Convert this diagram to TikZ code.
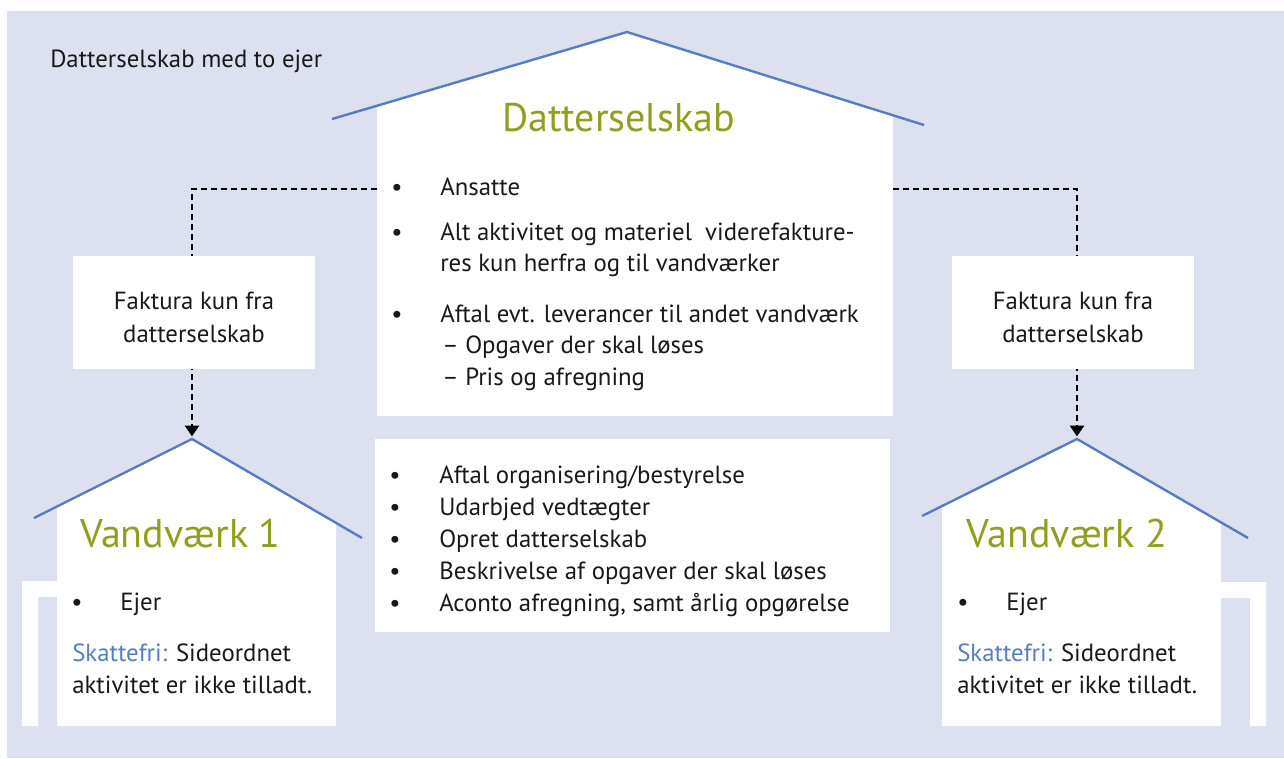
\documentclass[tikz,border=0pt]{standalone}
\usepackage{fontspec}
\setmainfont{PT Sans}
\usepackage{xcolor}
\usetikzlibrary{arrows.meta}

\definecolor{bgblue}{RGB}{220,224,239}
\definecolor{roofblue}{RGB}{88,124,192}
\definecolor{titlegreen}{RGB}{145,158,30}
\definecolor{inkgray}{RGB}{25,25,25}

\newcommand{\bodyfont}{\fontsize{18.6}{24.75}\selectfont}
\newcommand{\headfont}{\fontsize{30}{34}\selectfont}

\begin{document}
\begin{tikzpicture}[x=0.75pt,y=-0.75pt,>={Triangle[width=10.5pt,length=8pt]},
    roof/.style={roofblue,line width=1.8pt},
    wall/.style={fill=white,draw=none},
    link/.style={line width=1.7pt,dash pattern=on 4.5pt off 3pt},
    txt/.style={anchor=base west,inner sep=0pt,font=\bodyfont,text=inkgray},
    dot/.style={anchor=base,inner sep=0pt,font=\bodyfont,text=inkgray},
    head/.style={anchor=base,inner sep=0pt,font=\headfont,text=titlegreen},
    box/.style={fill=white,inner sep=0pt,minimum width=181.5pt,minimum height=84.75pt},
    boxtxt/.style={anchor=base,inner sep=0pt,align=center,font=\bodyfont,text=inkgray}]

        \useasboundingbox (0,0) rectangle (1284,758);
        \fill[bgblue] (7,11) rectangle (1284,758);

        % Houses (white walls under the roofs)
        \fill[wall] (377,416) -- (377,105.7) -- (627,32) -- (893,115.3) -- (893,416) -- cycle;  % Datterselskab
        \fill[wall] (57,726) -- (57,506.5) -- (192,439) -- (336,523) -- (336,726) -- cycle;     % Vandvaerk 1
        \fill[wall] (22,726) -- (22,581) -- (57,581) -- (57,597) -- (38,597) -- (38,726) -- cycle;
        \fill[wall] (942,726) -- (942,506) -- (1077,439) -- (1221,522.4) -- (1221,726) -- cycle; % Vandvaerk 2
        \fill[wall] (1266,726) -- (1266,582) -- (1221,582) -- (1221,598) -- (1250,598) -- (1250,726) -- cycle;

        % Roofs
        \draw[roof] (332,119) -- (627,32) -- (924,125);
        \draw[roof] (34,518) -- (192,439) -- (362,538);
        \draw[roof] (922,516) -- (1077,439) -- (1248,538);

        % Invoices go from the subsidiary down to each waterworks
        \coordinate (dsL) at (377,189);
        \coordinate (dsR) at (893,189);
        \coordinate (vv1) at (192,439);
        \coordinate (vv2) at (1077,439);
        \draw[link,->,shorten >=2pt] (dsL) -| (vv1);
        \draw[link,->,shorten >=2pt] (dsR) -| (vv2);

        \node[box] (fakL) at (194,312) {};
        \node[boxtxt] (fakLtxt) at (194,342) {Faktura kun fra\\datterselskab};
        \node[box] (fakR) at (1073,312) {};
        \node[boxtxt] (fakRtxt) at (1073,342) {Faktura kun fra\\datterselskab};

        % Task box under the subsidiary
        \node[fill=white,inner sep=0pt,minimum width=386.25pt,minimum height=144.75pt] (tasks) at (632.5,535.5) {};

        % Texts
        \node[txt] (caption) at (50,67) {Datterselskab med to ejer};
        \node[head] (dsTitle) at (618.5,131) {Datterselskab};
        \node[head] (vv1Title) at (180.5,547) {Vandværk 1};
        \node[head] (vv2Title) at (1067,547) {Vandværk 2};

        \node[dot] (b1) at (397,195) {\textbullet};
        \node[txt] (t1) at (440,195) {Ansatte};
        \node[dot] (b2) at (397,240) {\textbullet};
        \node[txt] (t2) at (440,240) {Alt aktivitet og materiel~ viderefakture-};
        \node[txt] (t3) at (440,271) {res kun herfra og til vandværker};
        \node[dot] (b3) at (397,322) {\textbullet};
        \node[txt] (t4) at (440,322) {Aftal evt. leverancer til andet vandværk};
        \node[txt] (t5) at (442,353) {– Opgaver der skal løses};
        \node[txt] (t6) at (442,385) {– Pris og afregning};

        \node[dot] (c1) at (395,483) {\textbullet};
        \node[txt] (s1) at (439,483) {Aftal organisering/bestyrelse};
        \node[dot] (c2) at (395,515) {\textbullet};
        \node[txt] (s2) at (439,515) {Udarbjed vedtægter};
        \node[dot] (c3) at (395,547) {\textbullet};
        \node[txt] (s3) at (439,547) {Opret datterselskab};
        \node[dot] (c4) at (395,579) {\textbullet};
        \node[txt] (s4) at (439,579) {Beskrivelse af opgaver der skal løses};
        \node[dot] (c5) at (395,611) {\textbullet};
        \node[txt] (s5) at (439,611) {Aconto afregning, samt årlig opgørelse};

        \node[dot] (e1) at (77,610) {\textbullet};
        \node[txt] (ejer1) at (120,610) {Ejer};
        \node[txt] (skat1) at (72,661) {\textcolor{roofblue}{Skattefri:} Sideordnet};
        \node[txt] (akt1) at (72,693) {aktivitet er ikke tilladt.};

        \node[dot] (e2) at (963,610) {\textbullet};
        \node[txt] (ejer2) at (1006,610) {Ejer};
        \node[txt] (skat2) at (957,661) {\textcolor{roofblue}{Skattefri:} Sideordnet};
        \node[txt] (akt2) at (957,693) {aktivitet er ikke tilladt.};
\end{tikzpicture}
\end{document}
